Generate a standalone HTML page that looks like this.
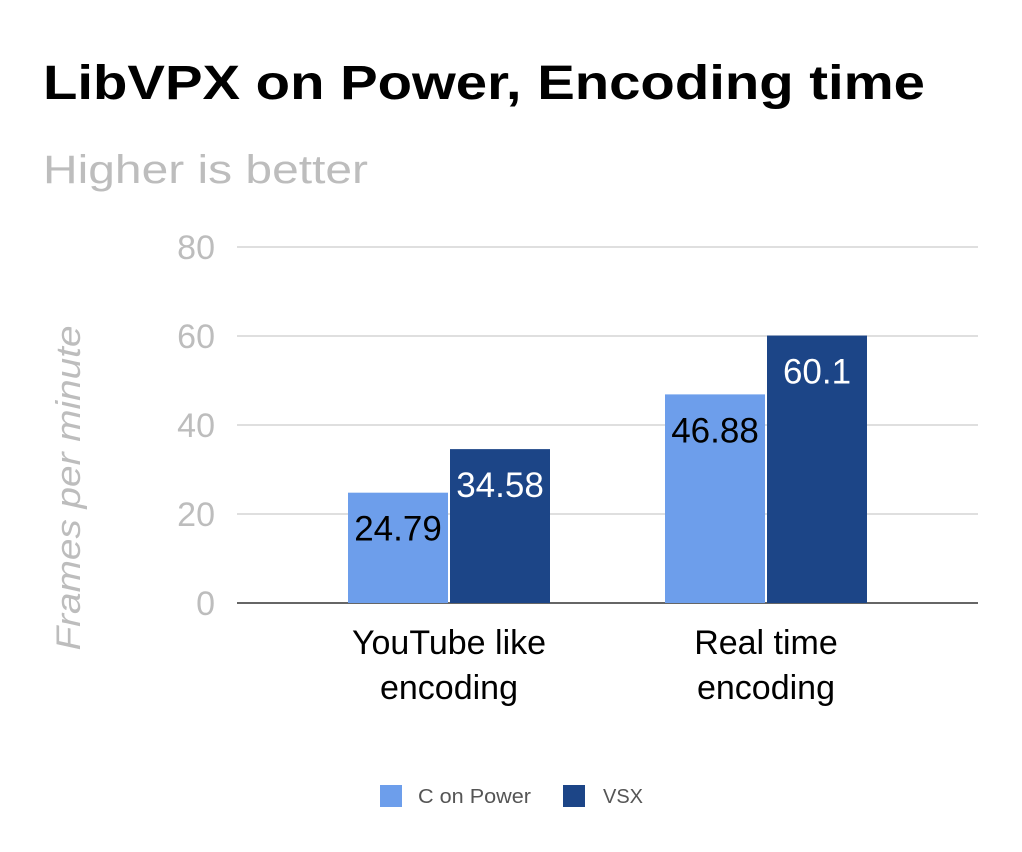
<!DOCTYPE html>
<html><head><meta charset="utf-8"><style>
body{margin:0;background:#fff;}
svg{display:block;font-family:"Liberation Sans",Roboto,sans-serif;}
</style></head><body>
<svg id="chart" width="1022" height="852" viewBox="0 0 1022 852">
<text x="43" y="99" font-size="48" font-weight="bold" fill="#000" textLength="882" lengthAdjust="spacingAndGlyphs">LibVPX on Power, Encoding time</text>
<text x="43" y="183" font-size="40" fill="#bdbdbd" textLength="325" lengthAdjust="spacingAndGlyphs">Higher is better</text>
<text transform="translate(80,488) rotate(-90)" text-anchor="middle" font-size="34" font-style="italic" fill="#bdbdbd" textLength="325" lengthAdjust="spacingAndGlyphs">Frames per minute</text>
<g id="grid"></g><g id="bars"></g><g id="xlabels"></g>
<g>
<rect x="380" y="785" width="22" height="22" fill="#6d9eeb"/>
<text x="418" y="803" font-size="20" fill="#555" textLength="113" lengthAdjust="spacingAndGlyphs">C on Power</text>
<rect x="563" y="785" width="22" height="22" fill="#1c4587"/>
<text x="603" y="803" font-size="20" fill="#555">VSX</text>
</g>
</svg>
<script>
const categories=[["YouTube like","encoding"],["Real time","encoding"]];
const cOnPower=[24.79,46.88];
const vsx=[34.58,60.1];
const yTicks=[0,20,40,60,80];
const NS="http://www.w3.org/2000/svg";
const y0=603,pxPerUnit=4.45,xl=237,xr=978,bw=100;
const groupCenters=[449,766];
function y(v){return y0-v*pxPerUnit;}
function mk(t,a,p,txt){const e=document.createElementNS(NS,t);for(const k in a)e.setAttribute(k,a[k]);if(txt!==undefined)e.textContent=txt;p.appendChild(e);return e;}
const grid=document.getElementById('grid');
yTicks.forEach(v=>{
 const l=mk('line',{x1:xl,x2:xr,y1:y(v),y2:y(v),stroke:v===0?'#333':'#ccc','stroke-width':v===0?1.5:1.2},grid);
 
 
 const t=mk('text',{x:215,y:y(v)+12,'text-anchor':'end','font-size':34,fill:'#bdbdbd'},grid,String(v));
 
 
});
const bars=document.getElementById('bars');
const series=[{d:cOnPower,c:'#6d9eeb',tc:'#000',off:-101,n:'c-on-power'},{d:vsx,c:'#1c4587',tc:'#fff',off:1,n:'vsx'}];
series.forEach(s=>{s.d.forEach((v,i)=>{
 const x=groupCenters[i]+s.off;
 const r=mk('rect',{x:x,y:y(v),width:bw,height:y0-y(v),fill:s.c},bars);
 
 
 const t=mk('text',{x:x+bw/2,y:y(v)+48,'text-anchor':'middle','font-size':35,fill:s.tc},bars,String(v));
 
 
});});
const xg=document.getElementById('xlabels');
categories.forEach((c,i)=>{c.forEach((line,j)=>{
 const t=mk('text',{x:groupCenters[i],y:654+j*45,'text-anchor':'middle','font-size':34,fill:'#000'},xg,line);
 
 
});});
</script>
</body></html>
